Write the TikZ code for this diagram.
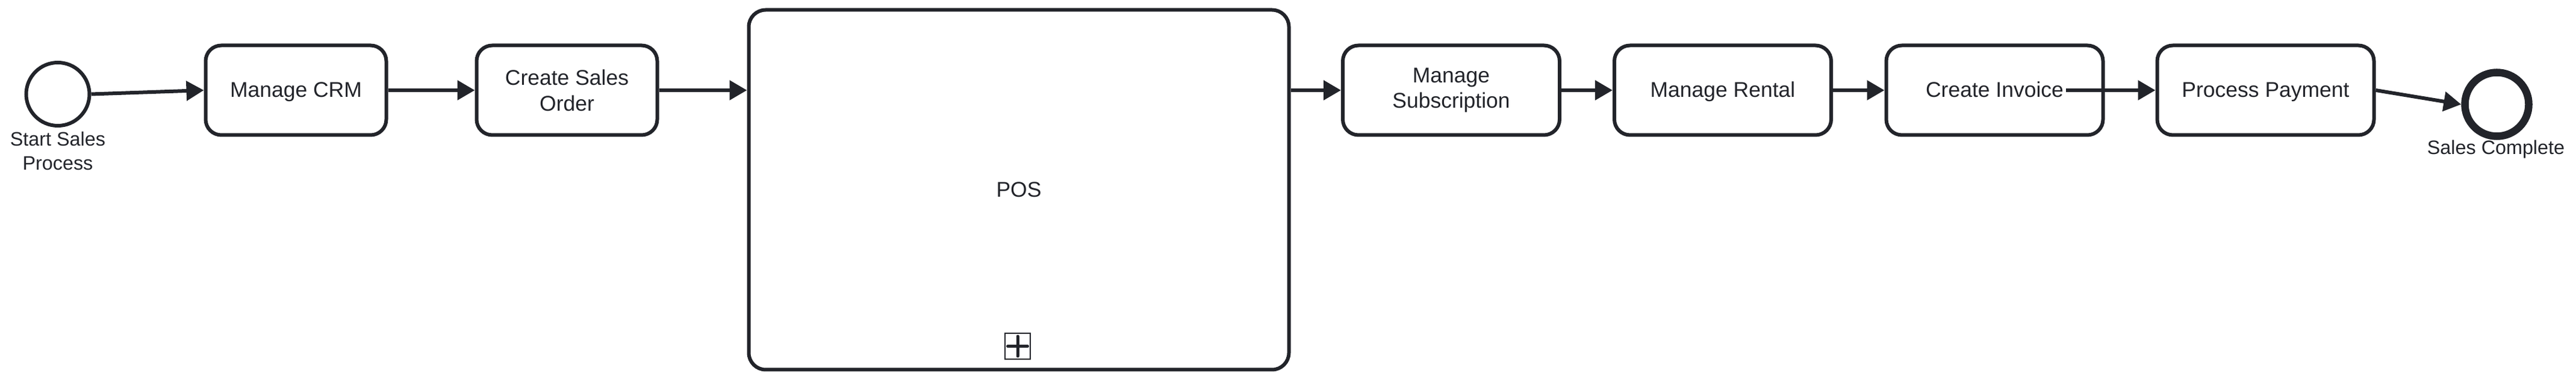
\documentclass[tikz,border=0pt]{standalone}
\usepackage{fontspec}
\setmainfont{Liberation Sans}
\usepackage{tikz}
\usetikzlibrary{arrows.meta, shapes}
\definecolor{mydark}{RGB}{34, 36, 42}
\tikzset{>={Triangle[length=0.29cm, width=0.32cm]}}
\tikzset{task/.style = {draw = mydark, line width = 0.06cm, rounded corners = 0.26cm, minimum height = 1.49cm, align = center, text = mydark, font = \fontsize{10.1}{12.2}\selectfont},
  oneline/.style = {text height = 8.8pt, text depth = 2pt},
  event/.style = {draw = mydark, circle, line width = 0.06cm, minimum size = 1.05cm, inner sep = 0},
  evlabel/.style = {anchor = north, inner sep = 0, align = center, text = mydark, font = \fontsize{9.2}{11.4}\selectfont},
  flow/.style = {->, draw = mydark, line width = 0.06cm}}

\begin{document}
\begin{tikzpicture}
\useasboundingbox (0,0) rectangle (42.78,-6.30);
\node[event] (start) at (0.96,-1.565) {};
\node[evlabel] (startlbl) at (0.96,-2.185) {Start Sales\\Process};
\node[task, oneline, minimum width = 3.00cm] (crm) at (4.915,-1.50) {Manage CRM};
\node[task, minimum width = 3.00cm] (order) at (9.415,-1.50) {Create Sales\\Order};
\node[task, oneline, minimum width = 8.97cm, minimum height = 5.98cm, rounded corners = 0.28cm] (pos) at (16.92,-3.155) {POS};
\node[draw = mydark, line width = 0.02cm, minimum width = 0.42cm, minimum height = 0.43cm, inner sep = 0] (posmark) at (16.90,-5.755) {};
\draw[mydark, line width = 0.05cm, line cap = round] ([xshift = -0.165cm]posmark.center) -- ([xshift = 0.165cm]posmark.center);
\draw[mydark, line width = 0.05cm, line cap = round] ([yshift = -0.165cm]posmark.center) -- ([yshift = 0.165cm]posmark.center);
\node[task, minimum width = 3.60cm] (subs) at (24.10,-1.50) {Manage\\Subscription};
\node[task, oneline, minimum width = 3.60cm] (rental) at (28.61,-1.50) {Manage Rental};
\node[task, oneline, minimum width = 3.60cm] (invoice) at (33.125,-1.50) {Create Invoice};
\node[task, oneline, minimum width = 3.60cm] (payment) at (37.625,-1.50) {Process Payment};
\node[event, line width = 0.125cm, minimum size = 1.06cm] (stop) at (41.465,-1.735) {};
\node[evlabel] (stoplbl) at (41.45,-2.325) {Sales Complete};
% sequence flows
\draw[flow] (start.east) -- (crm.west);
\draw[flow] (crm.east) -- (order.west);
\draw[flow] (order.east) -- (order.east -| pos.west);
\draw[flow] (subs.west -| pos.east) -- (subs.west);
\draw[flow] (subs.east) -- (rental.west);
\draw[flow] (rental.east) -- (invoice.west);
\draw[flow] ([xshift = -0.645cm]invoice.east) -- (payment.west);
\draw[flow] (payment.east) -- (stop.west);
\end{tikzpicture}
\end{document}
